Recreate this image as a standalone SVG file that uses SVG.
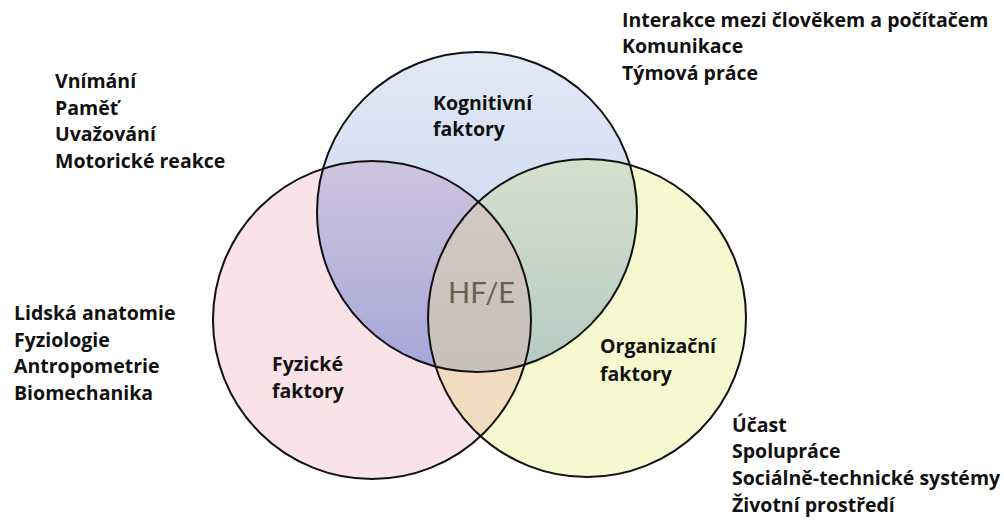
<svg xmlns="http://www.w3.org/2000/svg" width="1004" height="520" viewBox="0 0 1004 520">
<style>
  .t{font-family:"Open Sans","Noto Sans","Liberation Sans",sans-serif;font-weight:700;font-size:19.5px;fill:#111}
  .ring{fill:none;stroke:#111;stroke-width:2}
  .hf{font-family:Lato,"Open Sans","Liberation Sans",sans-serif;font-size:29px;fill:#675f50}
</style>
<defs>
  <clipPath id="cT"><circle cx="477" cy="212" r="160"/></clipPath>
  <clipPath id="cL"><circle cx="372" cy="320" r="159"/></clipPath>
  <clipPath id="cR"><circle cx="587" cy="318" r="159"/></clipPath>
  <linearGradient id="gT" gradientUnits="userSpaceOnUse" x1="0" y1="52" x2="0" y2="372">
    <stop offset="0" stop-color="#e2e9f6"/><stop offset="1" stop-color="#c0d1ee"/>
  </linearGradient>
  <linearGradient id="gTL" gradientUnits="userSpaceOnUse" x1="0" y1="165" x2="0" y2="372">
    <stop offset="0" stop-color="#cdc4de"/><stop offset="1" stop-color="#a6a6d8"/>
  </linearGradient>
  <linearGradient id="gTR" gradientUnits="userSpaceOnUse" x1="0" y1="160" x2="0" y2="372">
    <stop offset="0" stop-color="#d5e0cc"/><stop offset="1" stop-color="#b5cac4"/>
  </linearGradient>
  <linearGradient id="gC" gradientUnits="userSpaceOnUse" x1="0" y1="200" x2="0" y2="372">
    <stop offset="0" stop-color="#d3c8c2"/><stop offset="1" stop-color="#c9bfbb"/>
  </linearGradient>
</defs>
<rect width="1004" height="520" fill="#fff"/>
<g id="fills">
  <circle cx="372" cy="320" r="159" fill="#f9e3e8"/>
  <circle cx="587" cy="318" r="159" fill="#f6f8d0"/>
  <circle cx="477" cy="212" r="160" fill="url(#gT)"/>
  <circle cx="587" cy="318" r="159" fill="#f2dcc0" clip-path="url(#cL)"/>
  <circle cx="477" cy="212" r="160" fill="url(#gTL)" clip-path="url(#cL)"/>
  <circle cx="477" cy="212" r="160" fill="url(#gTR)" clip-path="url(#cR)"/>
  <g clip-path="url(#cL)">
    <circle cx="477" cy="212" r="160" fill="url(#gC)" clip-path="url(#cR)"/>
  </g>
</g>
<g id="kognitivni">
  <circle class="ring" cx="477" cy="212" r="160"/>
  <text class="t" x="433" y="110">Kognitivní</text>
  <text class="t" x="433" y="136">faktory</text>
</g>
<g id="fyzicke">
  <circle class="ring" cx="372" cy="320" r="159"/>
  <text class="t" x="272" y="371">Fyzické</text>
  <text class="t" x="272" y="398">faktory</text>
</g>
<g id="organizacni">
  <circle class="ring" cx="587" cy="318" r="159"/>
  <text class="t" x="600" y="353">Organizační</text>
  <text class="t" x="600" y="381">faktory</text>
</g>
<g id="hfe">
  <text class="hf" x="448" y="303">HF/E</text>
</g>
<g id="list-kognitivni-left">
  <text class="t" x="55" y="88">Vnímání</text>
  <text class="t" x="55" y="115">Paměť</text>
  <text class="t" x="55" y="141">Uvažování</text>
  <text class="t" x="55" y="168">Motorické reakce</text>
</g>
<g id="list-kognitivni-right">
  <text class="t" x="622" y="27">Interakce mezi člověkem a počítačem</text>
  <text class="t" x="622" y="53">Komunikace</text>
  <text class="t" x="622" y="80">Týmová práce</text>
</g>
<g id="list-fyzicke">
  <text class="t" x="14" y="320">Lidská anatomie</text>
  <text class="t" x="14" y="347">Fyziologie</text>
  <text class="t" x="14" y="373">Antropometrie</text>
  <text class="t" x="14" y="400">Biomechanika</text>
</g>
<g id="list-organizacni">
  <text class="t" x="732" y="432">Účast</text>
  <text class="t" x="732" y="458">Spolupráce</text>
  <text class="t" x="732" y="485">Sociálně-technické systémy</text>
  <text class="t" x="732" y="512">Životní prostředí</text>
</g>
</svg>
